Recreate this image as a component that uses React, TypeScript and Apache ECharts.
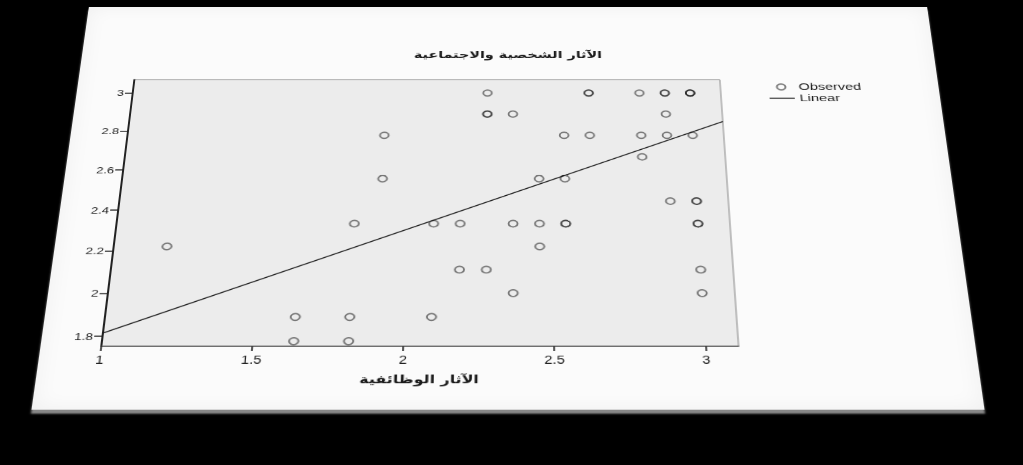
import React, { useEffect, useRef } from "react";
import * as echarts from "echarts";

// ---- data ----
const titleText = "الآثار الشخصية والاجتماعية";
const xAxisName = "الآثار الوظائفية";
const xTicks = [1, 1.5, 2, 2.5, 3];
const yTicks = [1.8, 2, 2.2, 2.4, 2.6, 2.8, 3];
// observed points (duplicates = overlapping, darker circles)
const obsX = [
  2.273, 2.636, 2.636, 2.818, 2.909, 2.909, 3.0, 3.0, 3.0,
  2.273, 2.273, 2.364, 2.909,
  1.909, 2.545, 2.636, 2.818, 2.909, 3.0,
  2.818,
  1.909, 2.455, 2.545,
  2.909, 3.0, 3.0,
  1.818, 2.091, 2.182, 2.364, 2.455, 2.545, 2.545, 3.0, 3.0,
  1.182, 2.455,
  2.182, 2.273, 3.0,
  2.364, 3.0,
  1.636, 1.818, 2.091,
  1.636, 1.818,
];
const obsY = [
  3.0, 3.0, 3.0, 3.0, 3.0, 3.0, 3.0, 3.0, 3.0,
  2.889, 2.889, 2.889, 2.889,
  2.778, 2.778, 2.778, 2.778, 2.778, 2.778,
  2.667,
  2.556, 2.556, 2.556,
  2.444, 2.444, 2.444,
  2.333, 2.333, 2.333, 2.333, 2.333, 2.333, 2.333, 2.333, 2.333,
  2.222, 2.222,
  2.111, 2.111, 2.111,
  2.0, 2.0,
  1.889, 1.889, 1.889,
  1.778, 1.778,
];
// fitted linear line endpoints
const lineX = [1, 3.11];
const lineY = [1.815, 2.85];
const xRange = [1, 3.11];
const yRange = [1.7545, 3.071];

// ---- card geometry (untransformed) ----
const CARD_W = 892;
const CARD_H = 567;

export default function App() {
  const ref = useRef<HTMLDivElement>(null);
  useEffect(() => {
    if (!ref.current) return;
    const chart = echarts.init(ref.current, undefined, { renderer: "svg" });
    const arabicFont = "'DejaVu Sans', 'Noto Sans', sans-serif";
    const latinFont = "'Liberation Sans', Arial, sans-serif";
    chart.setOption({
      animation: false,
      backgroundColor: "transparent",
      title: {
        text: titleText,
        left: "center",
        top: 62,
        textStyle: { fontFamily: arabicFont, fontSize: 15, fontWeight: "bold", color: "#1a1a1a" },
      },
      legend: {
        orient: "vertical",
        left: 711,
        top: 112,
        itemWidth: 26,
        itemHeight: 9,
        itemGap: 2,
        symbolKeepAspect: true,
        textStyle: { fontFamily: latinFont, fontSize: 15, color: "#222" },
        data: [
          { name: "Observed" },
          { name: "Linear", icon: "path://M0,0 L26,0 L26,1.6 L0,1.6 Z" },
        ],
      },
      grid: {
        left: 58,
        right: 226,
        top: 113.6,
        bottom: 80,
        show: true,
        backgroundColor: "#ececec",
        borderColor: "#8a8a8a",
        borderWidth: 1,
      },
      xAxis: {
        type: "value",
        min: xRange[0],
        max: xRange[1],
        name: xAxisName,
        nameLocation: "middle",
        nameGap: 34,
        nameTextStyle: { fontFamily: arabicFont, fontSize: 15, fontWeight: "bold", color: "#1a1a1a" },
        axisLine: { show: true, lineStyle: { color: "#555", width: 1.5 } },
        axisTick: { show: true, length: 6, customValues: xTicks, lineStyle: { color: "#222", width: 1.5 } },
        axisLabel: {
          customValues: xTicks,
          margin: 10,
          fontFamily: latinFont,
          fontSize: 14,
          color: "#222",
        },
        splitLine: { show: false },
      },
      yAxis: {
        type: "value",
        min: yRange[0],
        max: yRange[1],
        axisLine: { show: true, lineStyle: { color: "#222", width: 2 } },
        axisTick: { show: true, length: 8, customValues: yTicks, lineStyle: { color: "#222", width: 1.5 } },
        axisLabel: {
          customValues: yTicks,
          margin: 9,
          fontFamily: latinFont,
          fontSize: 13,
          color: "#222",
        },
        splitLine: { show: false },
      },
      series: [
        {
          name: "Observed",
          type: "scatter",
          symbol: "circle",
          symbolSize: 9,
          itemStyle: {
            color: "rgba(0,0,0,0)",
            borderColor: "rgba(20,20,20,0.68)",
            borderWidth: 1.8,
          },
          data: obsX.map((x, i) => [x, obsY[i]]),
          z: 2,
        },
        {
          name: "Linear",
          type: "line",
          symbol: "none",
          lineStyle: { color: "#1a1a1a", width: 1.4 },
          itemStyle: { color: "#1a1a1a" },
          data: lineX.map((x, i) => [x, lineY[i]]),
          z: 3,
        },
      ],
    });
    return () => chart.dispose();
  }, []);

  return (
    <div
      style={{
        position: "fixed",
        left: 0,
        top: 0,
        width: "100vw",
        height: "100vh",
        background: "#000",
        overflow: "hidden",
      }}
    >
      <div
        style={{
          position: "absolute",
          left: 508.2 - CARD_W / 2,
          top: 195.74 - CARD_H / 2,
          width: CARD_W,
          height: CARD_H,
          background: "#fbfbfb",
          transform: "perspective(3129px) rotateX(45deg)",
          transformOrigin: "50% 50%",
          boxShadow: "0 5px 2px rgba(150,150,150,0.9), inset 0 0 24px rgba(0,0,0,0.05)",
        }}
      >
        <div ref={ref} style={{ width: CARD_W, height: CARD_H }} />
      </div>
    </div>
  );
}
